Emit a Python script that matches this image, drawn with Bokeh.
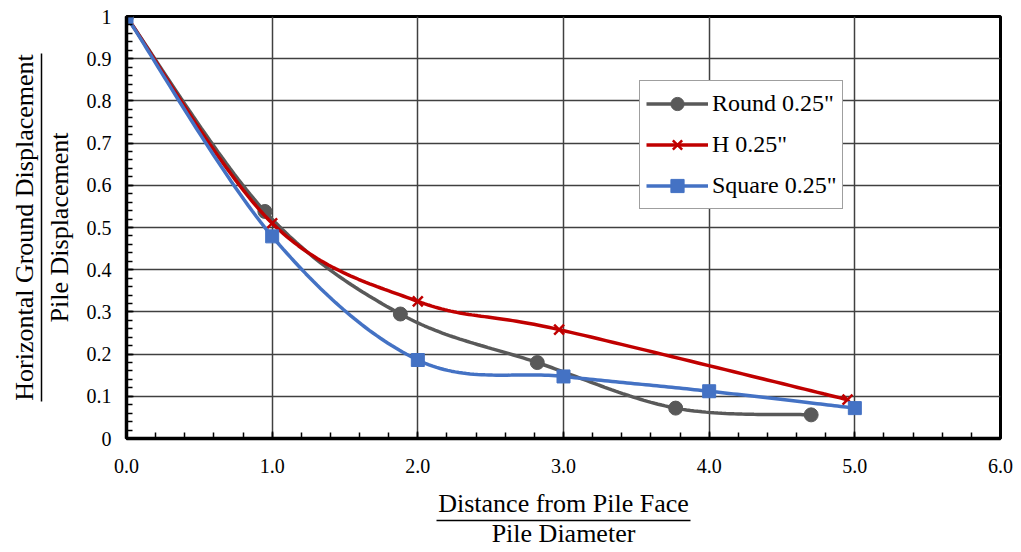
import numpy as np
from bokeh.plotting import figure
from bokeh.models import FixedTicker, Range1d, PrintfTickFormatter, LinearAxis
from bokeh.embed import file_html
from bokeh.resources import INLINE

# ---- data ----
x_round = [0.0, 0.95, 1.88, 2.82, 3.77, 4.70]
y_round = [1.0, 0.538, 0.295, 0.18, 0.072, 0.056]
x_h = [0.0, 1.0, 2.0, 2.97, 4.95]
y_h = [1.0, 0.51, 0.325, 0.258, 0.092]
x_sq = [0.0, 1.0, 2.0, 3.0, 4.0, 5.0]
y_sq = [1.0, 0.479, 0.186, 0.147, 0.112, 0.072]

series_names = ['Round 0.25"', 'H 0.25"', 'Square 0.25"']
x_ticks = [0, 1, 2, 3, 4, 5, 6]
y_ticks = [0, 0.1, 0.2, 0.3, 0.4, 0.5, 0.6, 0.7, 0.8, 0.9, 1.0]
x_title = ["Distance from Pile Face", "Pile Diameter"]
y_title = ["Horizontal Ground Displacement", "Pile Displacement"]

FONT = "Liberation Serif"
GRAY = "#595959"
RED = "#C00000"
BLUE = "#4472C4"


def smooth(xs, ys, n=40):
    """Excel-like smoothed line (Catmull-Rom as cubic Bezier)."""
    P = np.column_stack([xs, ys]).astype(float)
    out = []
    t = np.linspace(0, 1, n)[:, None]
    for i in range(len(P) - 1):
        p0 = P[i - 1] if i > 0 else P[i]
        p1 = P[i]
        p2 = P[i + 1]
        p3 = P[i + 2] if i + 2 < len(P) else P[i + 1]
        c1 = p1 + (p2 - p0) / 6.0
        c2 = p2 - (p3 - p1) / 6.0
        seg = ((1 - t) ** 3) * p1 + 3 * ((1 - t) ** 2) * t * c1 + 3 * (1 - t) * t ** 2 * c2 + t ** 3 * p2
        out.append(seg if i == 0 else seg[1:])
    B = np.vstack(out)
    return B[:, 0], B[:, 1]


p = figure(width=1013, height=550, output_backend="svg", toolbar_location=None,
           x_range=Range1d(0, 6), y_range=Range1d(0, 1),
           min_border_left=126, min_border_right=13, min_border_top=16, min_border_bottom=112)
p.background_fill_color = "white"
p.border_fill_color = "white"
p.outline_line_color = "black"
p.outline_line_width = 3

# main axes
p.xaxis.ticker = FixedTicker(ticks=x_ticks, minor_ticks=list(np.round(np.arange(0, 6.001, 0.2), 3)))
p.yaxis.ticker = FixedTicker(ticks=y_ticks, minor_ticks=list(np.round(np.arange(0, 1.0001, 0.02), 3)))
p.xaxis.formatter = PrintfTickFormatter(format="%.1f")
p.yaxis.formatter = PrintfTickFormatter(format="%.1f")
p.yaxis.major_label_overrides = {0: "0", 1: "1"}
for ax in (p.xaxis[0], p.yaxis[0]):
    ax.axis_line_color = "black"
    ax.axis_line_width = 3.5
    ax.major_tick_in = 7
    ax.major_tick_out = 0
    ax.minor_tick_in = 6
    ax.minor_tick_out = 0
    ax.major_tick_line_color = "black"
    ax.minor_tick_line_color = "black"
    ax.major_tick_line_width = 1.5
    ax.minor_tick_line_width = 1.5
    ax.major_label_text_font = FONT
    ax.major_label_text_font_size = "20px"
    ax.major_label_text_color = "black"
    ax.axis_label_text_font = FONT
    ax.axis_label_text_font_size = "26px"
    ax.axis_label_text_font_style = "normal"
    ax.axis_label_text_color = "black"
p.xaxis.major_label_standoff = 20
p.yaxis.major_label_standoff = 15
p.xaxis.axis_label = x_title[0]
p.xaxis.axis_label_standoff = 13
p.yaxis.axis_label = y_title[1]
p.yaxis.axis_label_standoff = 10


def title_axis(label, bounds, standoff):
    """Extra axis: its short line is the fraction bar, its label the second line."""
    a = LinearAxis(bounds=bounds, ticker=FixedTicker(ticks=[], minor_ticks=[]))
    a.axis_line_color = "black"
    a.axis_line_width = 1.5
    a.major_tick_in = 0
    a.major_tick_out = 0
    a.minor_tick_in = 0
    a.minor_tick_out = 0
    a.major_label_standoff = 0
    a.axis_label = label
    a.axis_label_standoff = standoff
    a.axis_label_text_font = FONT
    a.axis_label_text_font_size = "26px"
    a.axis_label_text_font_style = "normal"
    a.axis_label_text_color = "black"
    return a


p.add_layout(title_axis(x_title[1], (2.125, 3.875), -2), "below")
p.add_layout(title_axis(y_title[0], (0.088, 0.912), 3), "left")

p.xgrid.ticker = FixedTicker(ticks=x_ticks)
p.ygrid.ticker = FixedTicker(ticks=y_ticks)
p.grid.grid_line_color = "#404040"
p.grid.grid_line_width = 1.5

# series
sx, sy = smooth(x_round, y_round)
p.line(sx, sy, line_color=GRAY, line_width=3.5, legend_label=series_names[0])
p.scatter(x_round, y_round, marker="circle", size=14, fill_color=GRAY, line_color=GRAY,
          legend_label=series_names[0])

sx, sy = smooth(x_h, y_h)
p.line(sx, sy, line_color=RED, line_width=3.5, legend_label=series_names[1])
p.scatter(x_h, y_h, marker="x", size=14, line_color=RED, line_width=2.5,
          legend_label=series_names[1])

sx, sy = smooth(x_sq, y_sq)
p.line(sx, sy, line_color=BLUE, line_width=3.5, legend_label=series_names[2])
p.scatter(x_sq, y_sq, marker="square", size=13, fill_color=BLUE, line_color=BLUE,
          legend_label=series_names[2])

# legend
lg = p.legend[0]
lg.location = (513, 229)
lg.label_text_font = FONT
lg.label_text_font_size = "24px"
lg.label_text_color = "black"
lg.glyph_width = 62
lg.glyph_height = 33
lg.label_height = 33
lg.label_standoff = 4
lg.spacing = 8
lg.padding = 6
lg.margin = 0
lg.border_line_color = "#404040"
lg.border_line_width = 1.5
lg.background_fill_color = "white"
lg.background_fill_alpha = 1.0

open("out.html", "w").write(file_html(p, INLINE))
